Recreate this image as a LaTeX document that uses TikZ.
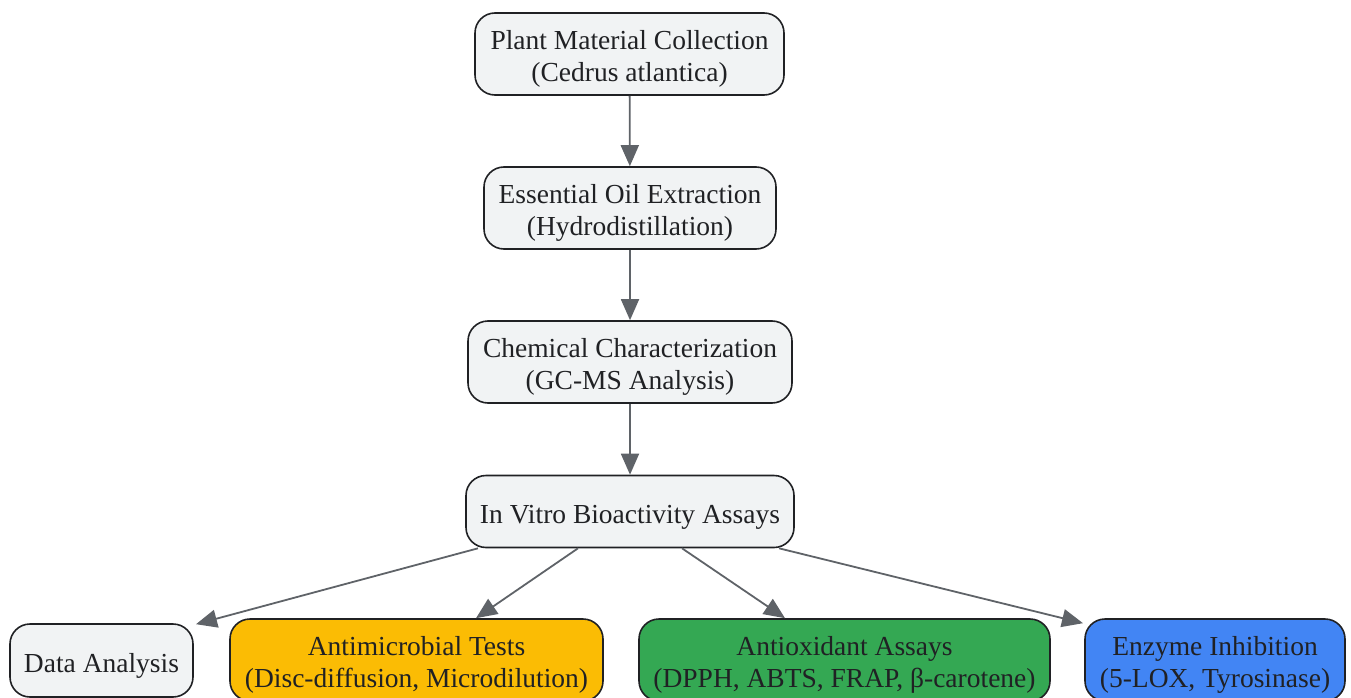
\documentclass[tikz,border=0pt]{standalone}
\usepackage{fontspec}
\setmainfont{Liberation Serif}
\usetikzlibrary{arrows.meta}
\definecolor{nodefill}{HTML}{F1F3F4}
\definecolor{nodeline}{HTML}{202124}
\definecolor{txt}{HTML}{202124}
\definecolor{edge}{HTML}{5F6368}
\definecolor{gyellow}{HTML}{FBBC04}
\definecolor{ggreen}{HTML}{34A853}
\definecolor{gblue}{HTML}{4285F4}
\tikzset{
  box/.style={draw=nodeline, line width=1.6pt, fill=nodefill, rounded corners=20pt,
    align=center, text=txt, inner sep=0pt,
    font=\fontsize{27.5pt}{32pt}\selectfont},
  oneline/.style={box, text height=29pt},
  twoline/.style={box, text height=61pt},
  conn/.style={draw=edge, line width=1.8pt, -{Triangle[length=21pt,width=18pt]}}
}
\begin{document}
\begin{tikzpicture}[x=1pt,y=-1pt]
\useasboundingbox (0,0) rectangle (1351,698);
\node[twoline, minimum width=309pt, minimum height=82pt] (plant) at (629.5,54) {Plant Material Collection\\(Cedrus atlantica)};
\node[twoline, minimum width=292pt, minimum height=82pt] (oil) at (630,208) {Essential Oil Extraction\\(Hydrodistillation)};
\node[twoline, minimum width=324pt, minimum height=82pt] (chem) at (630,362) {Chemical Characterization\\(GC-MS Analysis)};
\node[oneline, minimum width=328pt, minimum height=72pt] (vitro) at (630,511.5) {In Vitro Bioactivity Assays};
\node[oneline, minimum width=183pt, minimum height=73pt] (data) at (101.5,660.5) {Data Analysis};
\node[twoline, fill=gyellow, minimum width=373pt, minimum height=82pt] (micro) at (416.5,660) {Antimicrobial Tests\\(Disc-diffusion, Microdilution)};
\node[twoline, fill=ggreen, minimum width=411pt, minimum height=82pt] (oxid) at (844.5,660) {Antioxidant Assays\\(DPPH, ABTS, FRAP, β-carotene)};
\node[twoline, fill=gblue, minimum width=260pt, minimum height=82pt] (enz) at (1215,660) {Enzyme Inhibition\\(5-LOX, Tyrosinase)};
\draw[conn] (plant) -- (oil);
\draw[conn] (oil) -- (chem);
\draw[conn] (chem) -- (vitro);
\draw[conn] ([xshift=-152pt]vitro.south) -- ([xshift=94.5pt,yshift=-1pt]data.north);
\draw[conn] ([xshift=-52pt]vitro.south) -- ([xshift=59.5pt]micro.north);
\draw[conn] ([xshift=52pt]vitro.south) -- ([xshift=-59.5pt]oxid.north);
\draw[conn] ([xshift=149pt]vitro.south) -- ([xshift=-132pt,yshift=-5pt]enz.north);
\end{tikzpicture}
\end{document}
